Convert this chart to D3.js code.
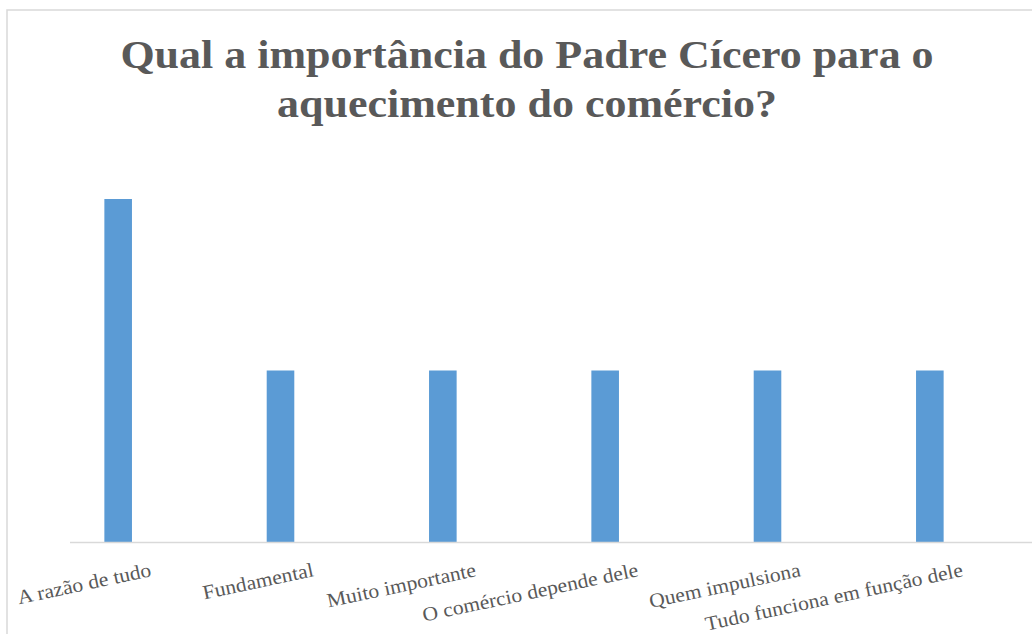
<!DOCTYPE html>
<html>
  <meta charset="utf-8">
  <head>
    <title>Qual a importância do Padre Cícero</title>
    <style>
      body { margin: 0; background: #fff; }
    </style>
  </head>
  <script src="https://d3js.org/d3.v7.min.js"></script>
  <body>
    <svg width="1032" height="634"></svg>
    <script>
      // chart data
      var categories = ["A razão de tudo", "Fundamental", "Muito importante",
                        "O comércio depende dele", "Quem impulsiona", "Tudo funciona em função dele"];
      var values = [2, 1, 1, 1, 1, 1];
      var titleLines = ["Qual a importância do Padre Cícero para o", "aquecimento do comércio?"];

      var serif = "'Liberation Serif'";
      var svg = d3.select("svg");

      // frame of the chart area
      svg.append("rect")
          .attr("x", 7).attr("y", 10)
          .attr("width", 1040).attr("height", 640)
          .attr("fill", "#fff")
          .attr("stroke", "#d9d9d9")
          .attr("stroke-width", 1.5);

      // the original picture is a bit stretched sideways
      svg.append("g").selectAll("text")
        .data(titleLines)
        .enter().append("text")
          .attr("transform", function(d, i) {
            return "translate(527," + (68 + i * 49) + ") scale(1.1,1)";
          })
          .attr("text-anchor", "middle")
          .style("font-family", serif)
          .style("font-weight", "bold")
          .style("font-size", "40px")
          .style("fill", "#595959")
          .text(function(d) { return d; });

      var x = d3.scaleBand()
          .domain(categories)
          .range([37, 1011])
          .paddingInner(0.83)
          .paddingOuter(0.415);

      var y = d3.scaleLinear()
          .domain([0, 2])
          .range([542, 199]);

      svg.append("g").selectAll("rect")
        .data(values)
        .enter().append("rect")
          .attr("x", function(d, i) { return x(categories[i]); })
          .attr("width", x.bandwidth())
          .attr("y", function(d) { return y(d); })
          .attr("height", function(d) { return y(0) - y(d); })
          .attr("fill", "#5b9bd5");

      svg.append("line")
          .attr("x1", 70).attr("x2", 1032)
          .attr("y1", y(0) + 0.5).attr("y2", y(0) + 0.5)
          .attr("stroke", "#d9d9d9")
          .attr("stroke-width", 1.5);

      var g = svg.append("g")
          .attr("transform", "translate(0," + y(0) + ")");

      g.selectAll("text")
        .data(categories)
        .enter().append("text")
          .attr("text-anchor", "end")
          .attr("transform", function(d) {
            return "translate(" + (x(d) + x.bandwidth() / 2 + 34) + ",34) rotate(-12) scale(1.08,1)";
          })
          .style("font-family", serif)
          .style("font-size", "20px")
          .style("fill", "#595959")
          .text(function(d) { return d; });
    </script>
  </body>
</html>
